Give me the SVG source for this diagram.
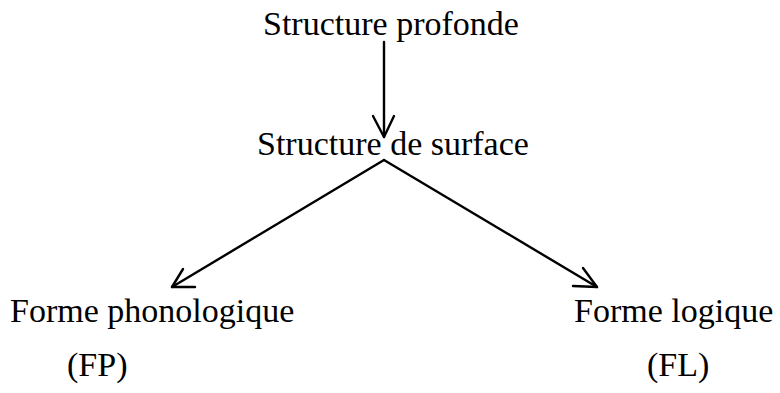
<svg xmlns="http://www.w3.org/2000/svg" width="780" height="393" viewBox="0 0 780 393">
<style>
text{font-family:"Liberation Serif","Times New Roman",serif;font-size:34px;fill:#000}
.c{fill:none;stroke:#000;stroke-width:2.4;stroke-linecap:round;stroke-linejoin:round}
</style>
<rect width="780" height="393" fill="#fff"/>
<g id="connectors">
<path class="c" d="M384 42 L384 137" stroke-width="1.6"/>
<path class="c" d="M373 116 L384 137 L394 116" stroke-width="1.6"/>
<path class="c" d="M384 160 L172 287"/>
<path class="c" d="M183 269 L172 287 L195 287"/>
<path class="c" d="M384 160 L597 287"/>
<path class="c" d="M583 268 L597 287 L573 286"/>
</g>
<g id="structure-profonde"><text x="263" y="35">Structure profonde</text></g>
<g id="structure-surface"><text x="257" y="155">Structure de surface</text></g>
<g id="forme-phonologique"><text x="10" y="322">Forme phonologique</text><text x="67" y="376">(FP)</text></g>
<g id="forme-logique"><text x="574" y="322">Forme logique</text><text x="647" y="376">(FL)</text></g>
</svg>
